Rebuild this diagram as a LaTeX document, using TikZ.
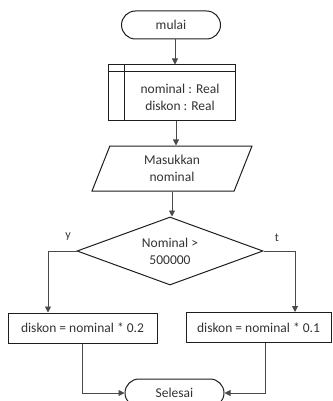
\documentclass[tikz,border=0pt]{standalone}
\usepackage{fontspec}
\setmainfont{Carlito}
\usetikzlibrary{shapes.geometric,shapes.misc,arrows.meta}
\definecolor{ink}{HTML}{1E1E1E}
\definecolor{wire}{HTML}{4A4A4A}
\definecolor{txt}{HTML}{333333}
\tikzset{
  every node/.style={font=\fontsize{13.5}{17}\selectfont, text=txt, inner sep=0pt},
  shapebox/.style={draw=ink, line width=1pt, fill=white},
  terminal/.style={shapebox, rounded rectangle, minimum width=99pt, minimum height=28pt},
  procbox/.style={shapebox, rectangle, minimum height=30pt},
  iobox/.style={shapebox, trapezium, trapezium left angle=56, trapezium right angle=124,
    trapezium stretches body, minimum width=160pt, minimum height=45pt, align=center},
  decision/.style={shapebox, diamond, aspect=2.8, minimum width=186pt, minimum height=68pt, align=center},
  flow/.style={draw=wire, line width=0.9pt, -{Triangle[length=6pt,width=6pt]}},
  branchlabel/.style={font=\fontsize{12}{14}\selectfont}
}
\begin{document}
\begin{tikzpicture}[x=1pt,y=-1pt]
  \useasboundingbox (0,0) rectangle (332,401);
  \clip (0,0) rectangle (332,401);

  % start
  \node[terminal] (mulai) at (171,25) {mulai};

  % variable declaration block
  \node[procbox, minimum width=127pt, minimum height=55pt] (decl) at (171.5,92.5) {};
  \draw[ink, line width=1pt] ([yshift=-7pt]decl.north west) -- ([yshift=-7pt]decl.north east);
  \draw[ink, line width=1pt] ([xshift=17pt]decl.north west) -- ([xshift=17pt]decl.south west);
  \node[align=center] (decltext) at ([xshift=8.5pt,yshift=-5pt]decl.center) {nominal : Real\\diskon : Real};

  % input
  \node[iobox] (input) at (172,168.5) {Masukkan\\nominal};

  % condition
  \node[decision] (cond) at (170,251) {Nominal >\\500000};

  % branches
  \node[procbox, minimum width=149pt] (yes) at (82.5,328) {diskon = nominal * 0.2};
  \node[procbox, minimum width=145pt] (no) at (258.5,327.5) {diskon = nominal * 0.1};

  % end
  \node[terminal, minimum width=99pt] (end) at (174.5,393) {Selesai};

  % connectors
  \draw[flow] ([xshift=4pt]mulai.south) -- ([xshift=4pt]mulai.south |- decl.north);
  \draw[flow] ([xshift=4.5pt]decl.south) -- ([xshift=4.5pt]decl.south |- input.north);
  \draw[flow] (input.south) -- (input.south |- cond.north);
  \draw[flow] (cond.west) -| ([xshift=-34.5pt]yes.north);
  \draw[flow] (cond.east) -| ([xshift=36.5pt]no.north);
  \draw[flow] (yes.south) |- (end.west);
  \draw[flow] ([xshift=6.5pt]no.south) |- (end.east);

  % branch labels
  \node[branchlabel] (ylabel) at (68,237) {y};
  \node[branchlabel] (tlabel) at (277,238) {t};
\end{tikzpicture}
\end{document}
